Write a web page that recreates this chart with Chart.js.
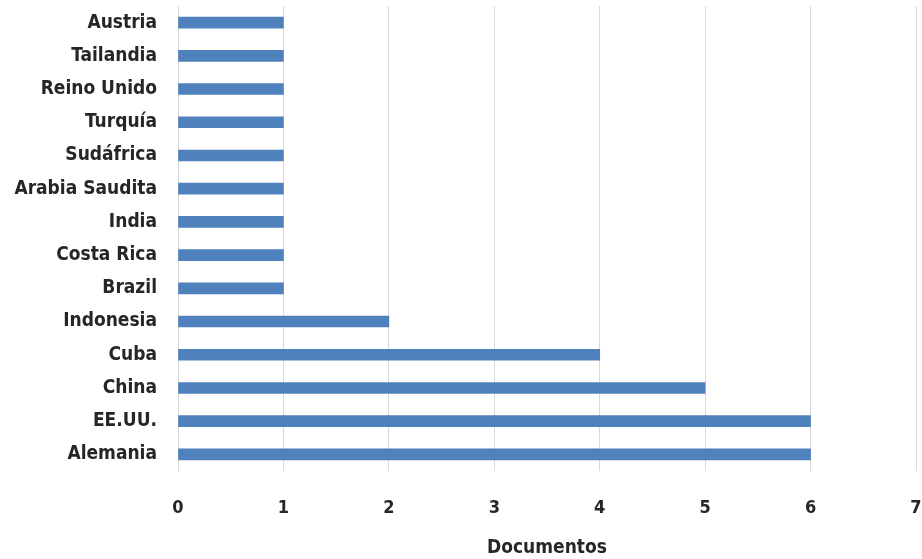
<!DOCTYPE html>
<html>
<head>
<meta charset="utf-8">
<script src="https://cdn.jsdelivr.net/npm/chart.js@4/dist/chart.umd.min.js"></script>
<style>
  html, body { margin: 0; padding: 0; background: #ffffff; }
  #wrap { width: 922px; height: 559px; position: relative; }
</style>
</head>
<body>
<div id="wrap"><canvas id="c"></canvas></div>
<script>
const categories = ["Austria", "Tailandia", "Reino Unido", "Turquía", "Sudáfrica", "Arabia Saudita", "India", "Costa Rica", "Brazil", "Indonesia", "Cuba", "China", "EE.UU.", "Alemania"];
const documentos = [1, 1, 1, 1, 1, 1, 1, 1, 1, 2, 4, 5, 6, 6];
const xTicks = [0, 1, 2, 3, 4, 5, 6, 7];
const axisTitle = "Documentos";

const FONT = "'DejaVu Sans Condensed', 'DejaVu Sans', sans-serif";

function zeroPad(s) { s.paddingTop = 0; s.paddingBottom = 0; s.paddingLeft = 0; s.paddingRight = 0; }

new Chart(document.getElementById('c'), {
  type: 'bar',
  data: {
    labels: categories,
    datasets: [{
      label: axisTitle,
      data: documentos,
      backgroundColor: '#4f81bd',
      borderWidth: 0,
      barThickness: 11
    }]
  },
  options: {
    indexAxis: 'y',
    responsive: true,
    maintainAspectRatio: false,
    animation: false,
    layout: { padding: { top: 6, right: 6, left: 0, bottom: 0 } },
    plugins: { legend: { display: false }, tooltip: { enabled: false } },
    scales: {
      x: {
        min: 0, max: 7,
        afterBuildTicks: (s) => { s.ticks = xTicks.map(v => ({ value: v })); },
        afterFit: (s) => { s.height = 88; zeroPad(s); },
        grid: { color: '#d9d9d9', lineWidth: 1, drawTicks: false },
        border: { display: false },
        ticks: { color: '#262626', padding: 27, maxRotation: 0, autoSkip: false, font: { family: FONT, size: 18, weight: 'bold' } },
        title: { display: true, text: axisTitle, color: '#262626', padding: { top: 10, bottom: 0 }, font: { family: FONT, size: 19, weight: 'bold' } }
      },
      y: {
        afterFit: (s) => { s.width = 178; zeroPad(s); },
        grid: { display: false, drawTicks: false },
        border: { display: false },
        ticks: { color: '#262626', padding: 21, autoSkip: false, font: { family: FONT, size: 19, weight: 'bold' } }
      }
    }
  }
});
</script>
</body>
</html>
